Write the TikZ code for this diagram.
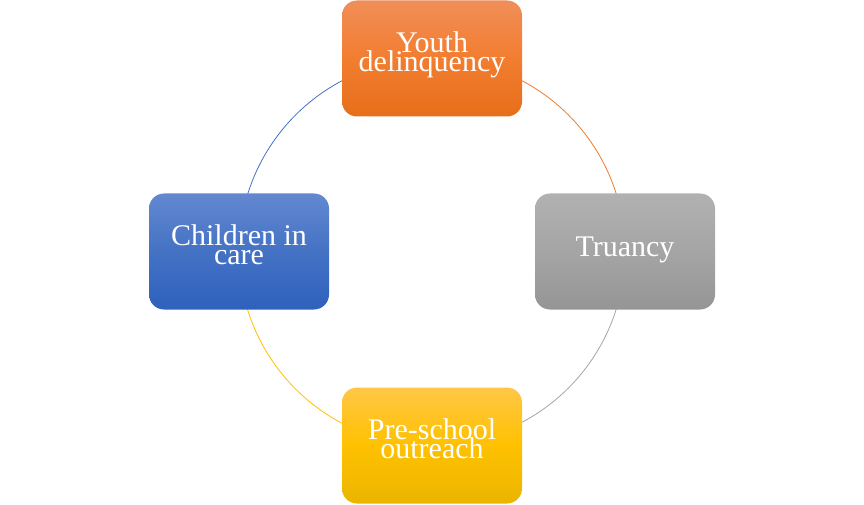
\documentclass[tikz,border=0pt]{standalone}
\usepackage{fontspec}
\setmainfont{Liberation Serif}
\pgfdeclarelayer{background}
\pgfsetlayers{background,main}
\definecolor{orT}{RGB}{241,142,88}
\definecolor{orM}{RGB}{242,125,48}
\definecolor{orB}{RGB}{231,111,26}
\definecolor{grT}{RGB}{177,177,177}
\definecolor{grM}{RGB}{165,165,165}
\definecolor{grB}{RGB}{149,149,149}
\definecolor{blT}{RGB}{99,136,208}
\definecolor{blM}{RGB}{68,114,196}
\definecolor{blB}{RGB}{46,97,189}
\definecolor{yeT}{RGB}{255,199,70}
\definecolor{yeM}{RGB}{255,193,0}
\definecolor{yeB}{RGB}{234,181,0}
\definecolor{orL}{RGB}{237,125,49}
\definecolor{grL}{RGB}{165,165,165}
\definecolor{yeL}{RGB}{255,192,0}
\definecolor{blL}{RGB}{68,114,196}
\newcommand\cycleboxfont{\fontsize{30pt}{19pt}\selectfont\setlength{\lineskiplimit}{-100pt}\relax}
\tikzset{
  cyclebox/.style={rectangle, rounded corners=15pt, minimum width=180pt, minimum height=116pt,
    inner sep=0pt, align=center, text=white,
    font=\cycleboxfont},
  twoline/.style={text height=40pt, text depth=14pt},
  oneline/.style={text height=21pt, text depth=12pt},
  cyclearc/.style={line width=0.8pt}
}
\begin{document}
\begin{tikzpicture}[x=1pt,y=1pt]
\useasboundingbox (0,0) rectangle (864,504);
\node[cyclebox, twoline, top color=orT, bottom color=orB, middle color=orM] (T) at (432,445.5) {Youth\\delinquency};
\node[cyclebox, oneline, top color=grT, bottom color=grB, middle color=grM] (R) at (625,252.5) {Truancy};
\node[cyclebox, twoline, top color=yeT, bottom color=yeB, middle color=yeM] (B) at (432,58.5) {Pre-school\\outreach};
\node[cyclebox, twoline, top color=blT, bottom color=blB, middle color=blM] (L) at (239,252.5) {Children in\\care};
\begin{pgfonlayer}{background}
\draw[cyclearc, orL] (T.center) arc[start angle=90, end angle=0, radius=193pt];
\draw[cyclearc, grL] (R.center) arc[start angle=0, end angle=-90, radius=193pt];
\draw[cyclearc, yeL] (B.center) arc[start angle=-90, end angle=-180, radius=193pt];
\draw[cyclearc, blL] (L.center) arc[start angle=180, end angle=90, radius=193pt];
\end{pgfonlayer}
\end{tikzpicture}
\end{document}
